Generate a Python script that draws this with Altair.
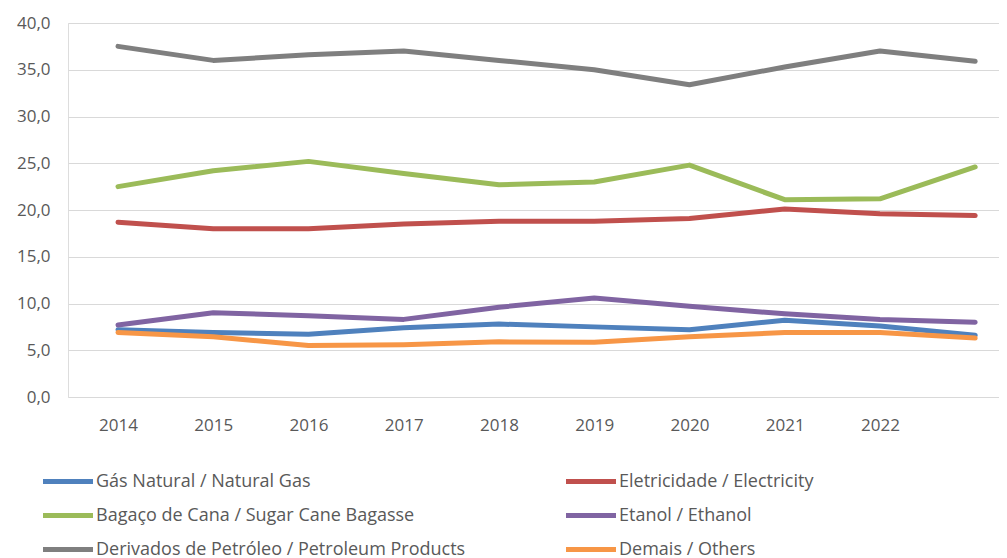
import altair as alt
import pandas as pd

years = [2014, 2015, 2016, 2017, 2018, 2019, 2020, 2021, 2022, 2023]
series_names = [
    "Gás Natural / Natural Gas",
    "Eletricidade / Electricity",
    "Bagaço de Cana / Sugar Cane Bagasse",
    "Etanol / Ethanol",
    "Derivados de Petróleo / Petroleum Products",
    "Demais / Others",
]
gas = [7.2, 6.9, 6.7, 7.4, 7.8, 7.5, 7.2, 8.2, 7.6, 6.6]
electricity = [18.7, 18.0, 18.0, 18.5, 18.8, 18.8, 19.1, 20.1, 19.6, 19.4]
bagasse = [22.5, 24.2, 25.2, 23.9, 22.7, 23.0, 24.8, 21.1, 21.2, 24.6]
ethanol = [7.7, 9.0, 8.7, 8.3, 9.6, 10.6, 9.7, 8.9, 8.3, 8.0]
petroleum = [37.5, 36.0, 36.6, 37.0, 36.0, 35.0, 33.4, 35.3, 37.0, 35.9]
others = [6.9, 6.45, 5.5, 5.6, 5.9, 5.85, 6.45, 6.9, 6.9, 6.3]
colors = ["#4F81BD", "#C0504D", "#9BBB59", "#8064A2", "#7F7F7F", "#F79646"]
x_tick_years = [2014, 2015, 2016, 2017, 2018, 2019, 2020, 2021, 2022]
y_ticks = [0, 5, 10, 15, 20, 25, 30, 35, 40]

values = [gas, electricity, bagasse, ethanol, petroleum, others]
rows = []
for i, (name, vals) in enumerate(zip(series_names, values)):
    for y, v in zip(years, vals):
        rows.append({"year": y, "value": v, "series": name, "order": i})
df = pd.DataFrame(rows)

# legend fills column by column: put entries so that rows read as in the reference
legend_order = [0, 2, 4, 1, 3, 5]
legend_domain = [series_names[i] for i in legend_order]
legend_range = [colors[i] for i in legend_order]

FONT = "Open Sans"
GRAY = "#595959"

chart = (
    alt.Chart(df)
    .mark_line(strokeWidth=5, strokeCap="round", strokeJoin="round")
    .encode(
        x=alt.X(
            "year:Q",
            scale=alt.Scale(domain=[2013.475, 2023.25], nice=False, zero=False),
            axis=alt.Axis(
                values=x_tick_years,
                format="d",
                grid=False,
                domain=False,
                ticks=False,
                labelPadding=20,
                labelFontSize=17,
                labelColor=GRAY,
                labelFont=FONT,
                title=None,
            ),
        ),
        y=alt.Y(
            "value:Q",
            scale=alt.Scale(domain=[0, 40], nice=False),
            axis=alt.Axis(
                values=y_ticks,
                labelExpr="replace(format(datum.value, '.1f'), '.', ',')",
                grid=True,
                gridColor="#D9D9D9",
                gridWidth=1,
                domain=False,
                ticks=False,
                labelPadding=18,
                labelFontSize=17,
                labelColor=GRAY,
                labelFont=FONT,
                title=None,
            ),
        ),
        color=alt.Color(
            "series:N",
            scale=alt.Scale(domain=legend_domain, range=legend_range),
            legend=alt.Legend(
                title=None,
                orient="none",
                legendX=-9,
                legendY=449.5,
                columns=2,
                gridAlign="all",
                columnPadding=90,
                rowPadding=14,
                symbolType="M-5,0H5",
                symbolSize=100,
                symbolStrokeWidth=5,
                symbolOffset=0,
                labelOffset=19,
                labelFontSize=18,
                labelColor=GRAY,
                labelFont=FONT,
                labelLimit=600,
            ),
        ),
        order="order:Q",
    )
    .properties(
        width=931,
        height=374,
        autosize=alt.AutoSizeParams(type="none"),
        padding={"left": 60, "top": 15, "right": 0, "bottom": 166},
    )
    .configure_view(stroke=None)
    .configure(font=FONT)
)

chart.save("out.html", embed_options={"renderer": "svg", "actions": False})
